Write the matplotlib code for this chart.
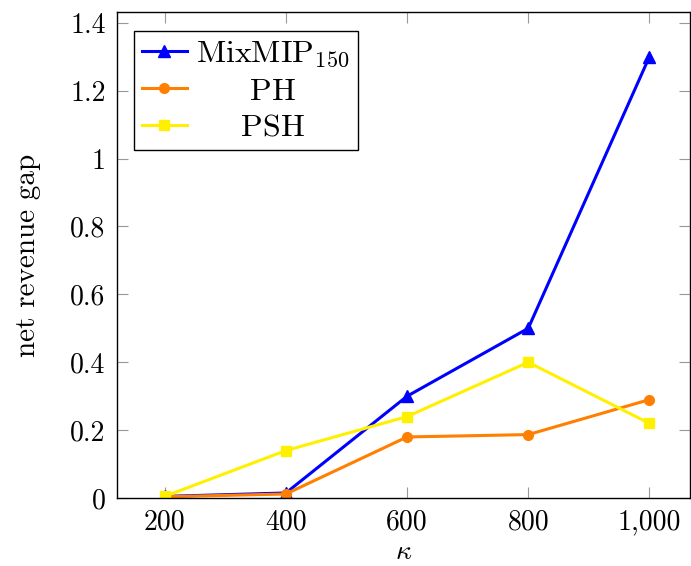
import matplotlib
matplotlib.use('Agg')
import matplotlib.pyplot as plt

plt.rcParams['font.family'] = 'serif'
plt.rcParams['font.serif'] = ['cmr10']
plt.rcParams['mathtext.fontset'] = 'cm'
plt.rcParams['axes.unicode_minus'] = False
plt.rcParams['axes.formatter.use_mathtext'] = True

# data
kappa = [200, 400, 600, 800, 1000]
mixmip = [0.005, 0.015, 0.30, 0.50, 1.30]
ph = [0.004, 0.012, 0.18, 0.187, 0.29]
psh = [0.005, 0.14, 0.24, 0.40, 0.22]

xticks = [200, 400, 600, 800, 1000]
xticklabels = ['200', '400', '600', '800', '1,000']
yticks = [0, 0.2, 0.4, 0.6, 0.8, 1.0, 1.2, 1.4]
yticklabels = ['0', '0.2', '0.4', '0.6', '0.8', '1', '1.2', '1.4']

fs = 20
lfs = 23

fig = plt.figure(figsize=(6.91, 5.66), dpi=100)
ax = fig.add_axes([0.169, 0.120, 0.8296, 0.859])

ax.plot(kappa, mixmip, color='#0000ff', lw=2.2, marker='^', ms=8, label='MixMIP_150')
ax.plot(kappa, ph, color='#ff7f00', lw=2.2, marker='o', ms=7, label='PH')
ax.plot(kappa, psh, color='#fff000', lw=2.2, marker='s', ms=7, label='PSH')

ax.set_xlim(121, 1067)
ax.set_ylim(0, 1.432)
ax.set_xticks(xticks)
ax.set_xticklabels(xticklabels)
ax.set_yticks(yticks)
ax.set_yticklabels(yticklabels)
ax.tick_params(direction='in', length=8, width=0.8, color='#999999', labelsize=fs,
               top=True, right=True, pad=8)
for s in ax.spines.values():
    s.set_linewidth(1.0)
    s.set_color('black')

ax.set_xlabel(r'$\kappa$', fontsize=fs, labelpad=2)
ax.set_ylabel('net revenue gap', fontsize=21, labelpad=21)

labels = [r'MixMIP_{150}', 'PH', 'PSH']
leg = ax.legend([r'$\mathrm{%s}$' % l for l in labels], loc='upper left',
                bbox_to_anchor=(0.03, 0.96), borderaxespad=0, fontsize=lfs,
                fancybox=False, framealpha=1, edgecolor='black',
                handlelength=1.4, handletextpad=0.3, labelspacing=0.25,
                borderpad=0.25)
leg.get_frame().set_linewidth(1.0)

# center the legend labels like pgfplots does
fig.canvas.draw()
r = fig.canvas.get_renderer()
texts = leg.get_texts()
widths = [t.get_window_extent(r).width for t in texts]
t0 = texts[1]
t0.set_text(r'$\hspace{1}\mathrm{PH}$')
unit = t0.get_window_extent(r).width - widths[1]
for t, l, w in zip(texts, labels, widths):
    pad = (max(widths) - w) / 2.0 / unit
    if pad > 0.01:
        t.set_text(r'$\hspace{%.3f}\mathrm{%s}$' % (pad, l))
    else:
        t.set_text(r'$\mathrm{%s}$' % l)

fig.savefig('out.png', dpi=100)
